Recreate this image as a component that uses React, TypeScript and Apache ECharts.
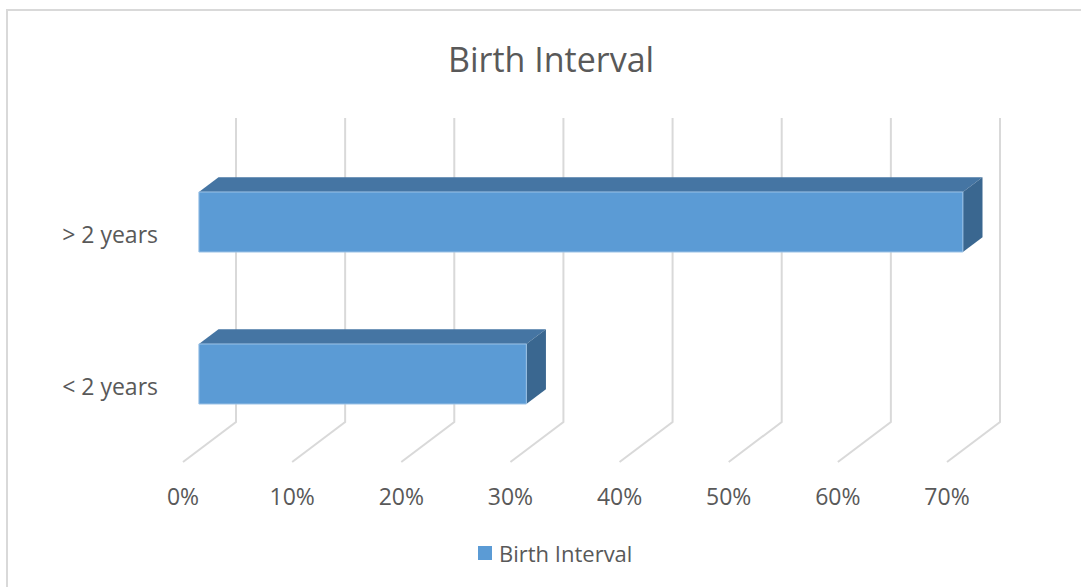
import React, { useEffect, useRef } from "react";
import * as echarts from "echarts";

const categories = ["< 2 years", "> 2 years"];
const seriesName = "Birth Interval";
const values = [30, 70];
const xTicks = [0, 10, 20, 30, 40, 50, 60, 70];

const DEPTH = [53, -40];
const F1 = 0.3;
const F2 = 0.67;

export default function App() {
  const ref = useRef<HTMLDivElement>(null);
  useEffect(() => {
    if (!ref.current) return;
    const chart = echarts.init(ref.current, null, { renderer: "svg" });
    const font = "'Open Sans', 'Noto Sans', sans-serif";
    const option: any = {
      animation: false,
      backgroundColor: "#ffffff",
      title: {
        text: "Birth Interval",
        left: 443,
        top: 37,
        textStyle: { fontFamily: font, fontSize: 34, fontWeight: "normal", color: "#595959" },
      },
      legend: {
        data: [{ name: seriesName, icon: "rect" }],
        bottom: 18,
        left: 473,
        itemWidth: 14,
        itemHeight: 14,
        itemGap: 6,
        textStyle: { fontFamily: font, fontSize: 22, color: "#595959", padding: [0, 0, 0, 2] },
      },
      graphic: [
        {
          type: "rect",
          shape: { x: 7, y: 10, width: 1090, height: 600 },
          style: { fill: "none", stroke: "#D9D9D9", lineWidth: 2 },
          silent: true,
        },
      ],
      grid: { left: 183, right: 134, top: 158, bottom: 125 },
      xAxis: {
        type: "value",
        min: 0,
        max: 70,
        interval: 10,
        axisLine: { show: false },
        axisTick: { show: false },
        splitLine: { show: false },
        axisLabel: {
          formatter: "{value}%",
          fontFamily: font,
          fontSize: 23,
          color: "#595959",
          margin: 22,
        },
      },
      yAxis: {
        type: "category",
        data: categories,
        axisLine: { show: false },
        axisTick: { show: false },
        splitLine: { show: false },
        axisLabel: { fontFamily: font, fontSize: 23, color: "#595959", margin: 25 },
      },
      series: [
        {
          type: "custom",
          name: "grid3d",
          silent: true,
          clip: false,
          z: 1,
          encode: { x: 0, y: 1 },
          data: xTicks.map((t) => [t, 0]),
          renderItem: (params: any, api: any) => {
            const cs = params.coordSys;
            const x = api.coord([api.value(0), 0])[0];
            const bottom = cs.y + cs.height;
            const bx = x + DEPTH[0];
            const by = bottom + DEPTH[1];
            return {
              type: "polyline",
              shape: {
                points: [
                  [x, bottom],
                  [bx, by],
                  [bx, by - cs.height],
                ],
              },
              style: { stroke: "#D9D9D9", lineWidth: 2, fill: "none" },
            };
          },
        },
        {
          type: "custom",
          name: seriesName,
          clip: false,
          z: 5,
          itemStyle: { color: "#5B9BD5" },
          encode: { x: 0, y: 1 },
          data: values.map((v, i) => [v, i]),
          renderItem: (params: any, api: any) => {
            const v = api.value(0);
            const idx = api.value(1);
            const p0 = api.coord([0, idx]);
            const p1 = api.coord([v, idx]);
            const band = api.size([0, 1])[1];
            const h = band * 0.395;
            const d1x = DEPTH[0] * F1, d1y = DEPTH[1] * F1;
            const d2x = DEPTH[0] * F2, d2y = DEPTH[1] * F2;
            const x0 = p0[0] + d1x;
            const x1 = p1[0] + d1x;
            const top = p0[1] + d1y - h / 2;
            const bot = p0[1] + d1y + h / 2;
            const dx = d2x - d1x, dy = d2y - d1y;
            return {
              type: "group",
              children: [
                {
                  type: "polygon",
                  shape: {
                    points: [
                      [x0, top],
                      [x1, top],
                      [x1 + dx, top + dy],
                      [x0 + dx, top + dy],
                    ],
                  },
                  style: { fill: "#4575A3" },
                },
                {
                  type: "polygon",
                  shape: {
                    points: [
                      [x1, top],
                      [x1 + dx, top + dy],
                      [x1 + dx, bot + dy],
                      [x1, bot],
                    ],
                  },
                  style: { fill: "#3A6790" },
                },
                {
                  type: "rect",
                  shape: { x: x0, y: top, width: x1 - x0, height: bot - top },
                  style: { fill: "#5B9BD5", stroke: "#9DC3E6", lineWidth: 1 },
                },
              ],
            };
          },
        },
      ],
    };
    chart.setOption(option);
    return () => chart.dispose();
  }, []);
  return (
    <div
      ref={ref}
      style={{ position: "absolute", left: 0, top: 0, width: 1081, height: 587, background: "#fff" }}
    />
  );
}
